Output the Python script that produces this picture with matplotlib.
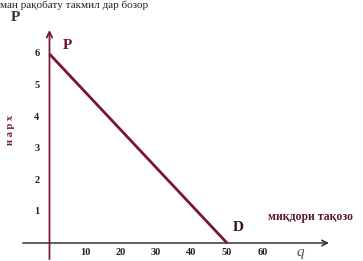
import matplotlib.pyplot as plt

# demand line D: price P against quantity q
demand_q = [0, 50]
demand_p = [6, 0]

price_ticks = [1, 2, 3, 4, 5, 6]
qty_ticks = [10, 20, 30, 40, 50, 60]

axis_color = "#7a1a35"
line_color = "#7b1530"
serif = ["Liberation Serif", "DejaVu Serif"]

fig = plt.figure(figsize=(3.63, 2.61), dpi=100)
ax = fig.add_axes([0, 0, 1, 1])
ax.set_xlim(-13.94, 88.3)
ax.set_ylim(-0.571, 7.714)
ax.axis("off")

# axes with arrows
ax.annotate("", xy=(0, 6.85), xytext=(0, -0.6),
            arrowprops=dict(arrowstyle="->", color=axis_color, lw=1.3))
ax.annotate("", xy=(79.5, 0), xytext=(-8.3, 0),
            arrowprops=dict(arrowstyle="->", color="#333333", lw=1.1))

ax.plot(demand_q, demand_p, color=line_color, lw=2.0, solid_capstyle="butt")

for p in price_ticks:
    ax.text(-3.6, p, str(p), ha="center", va="center", fontsize=7.5,
            fontweight="bold", family=serif, color="#222222")
for q in qty_ticks:
    ax.text(q, -0.3, str(q), ha="center", va="center", fontsize=7.5,
            fontweight="bold", family=serif, color="#222222")

ax.text(-9.5, 7.15, "P", fontsize=11, fontweight="bold", family=serif,
        color="#333333", ha="center", va="center")
ax.text(5.0, 6.27, "P", fontsize=11, fontweight="bold", family=serif,
        color="#6e1030", ha="center", va="center")
ax.text(53.2, 0.48, "D", fontsize=11, fontweight="bold", family=serif,
        color="#3a1020", ha="center", va="center")
ax.text(61.5, 0.83, "миқдори тақозо", fontsize=8.5, fontweight="bold",
        family=serif, color="#5a1a2a", ha="left", va="center")
ax.text(70.7, -0.3, "q", fontsize=11, style="italic", family=serif,
        color="#555555", ha="center", va="center")
ax.text(-11.0, 3.6, "н а р х", fontsize=7.5, fontweight="bold", family=serif,
        color="#7a1a35", rotation=90, ha="center", va="center")

# caption line at the very top (cropped in the source)
ax.text(-13.9, 7.714, "ман рақобату такмил дар бозор", fontsize=8,
        family=serif, color="#222222", ha="left", va="top")

fig.savefig("out.png", dpi=100)
